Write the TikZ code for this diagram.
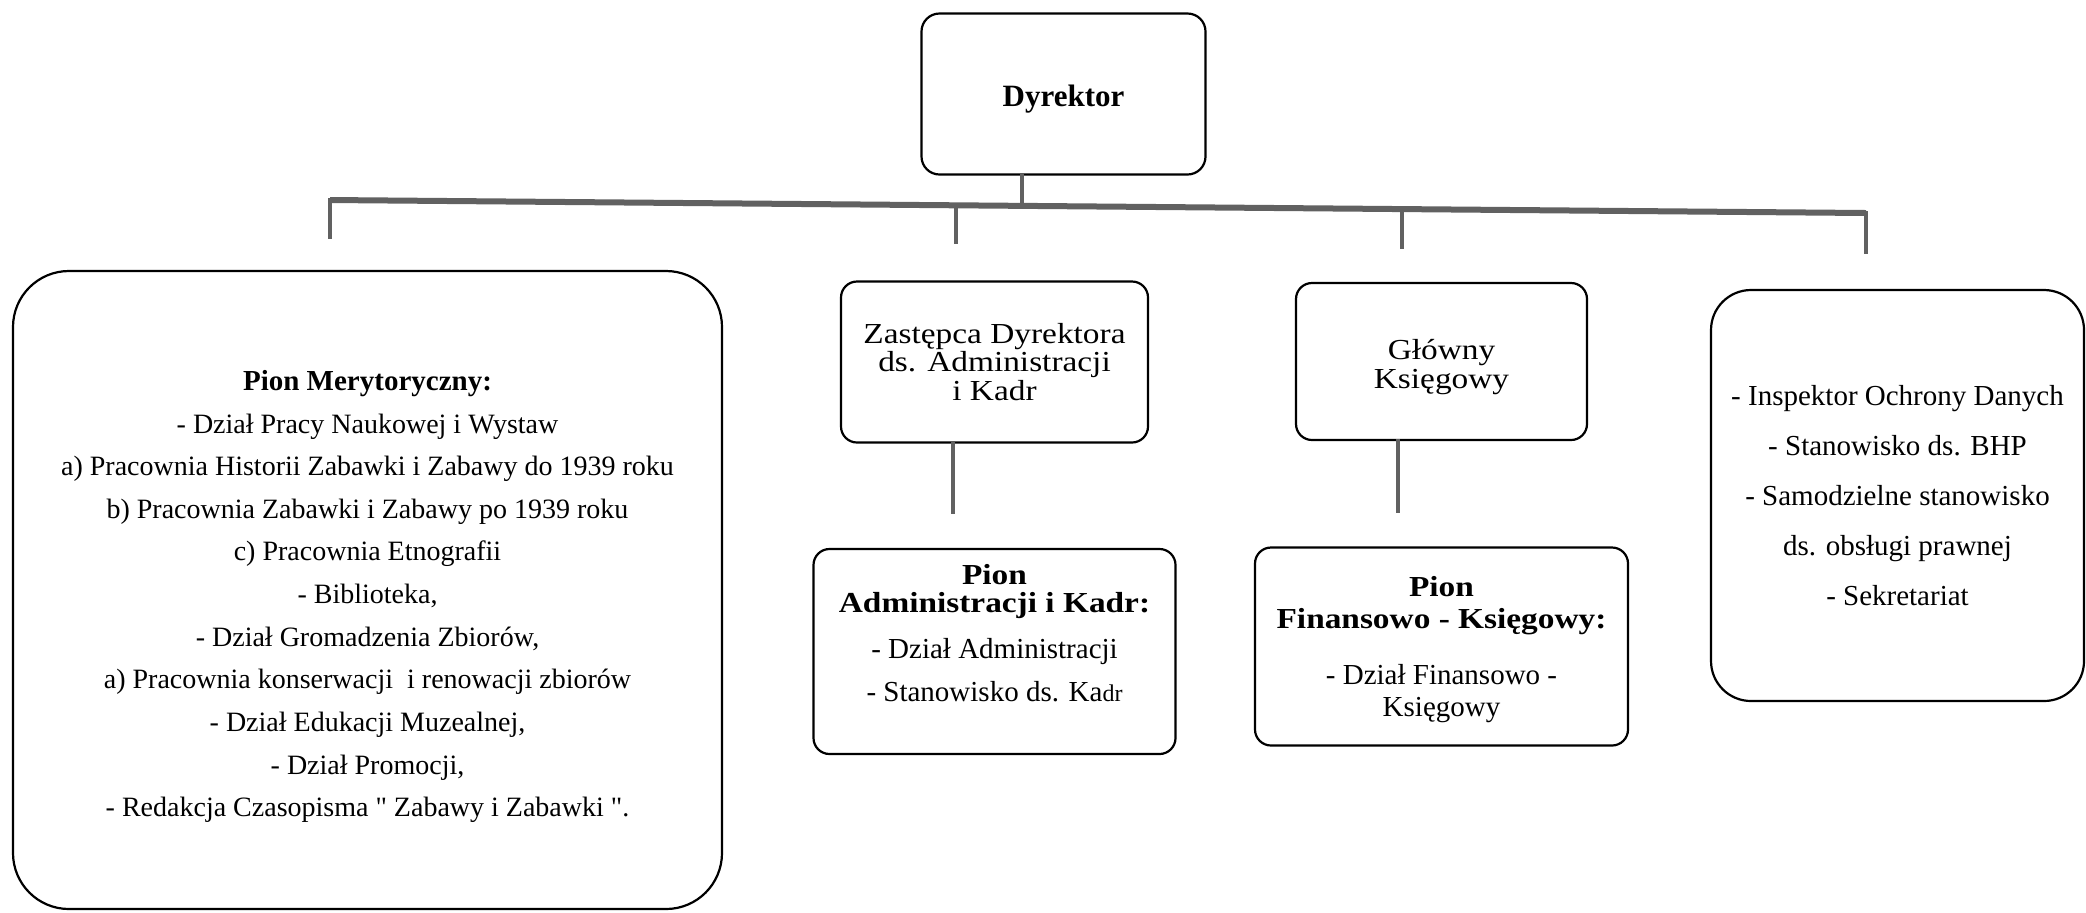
\documentclass[tikz,border=0pt]{standalone}
\usepackage{fontspec}
\setmainfont{Liberation Serif}
\newfontfamily\wideserif{Liberation Serif}[FakeStretch=1.15]
\usetikzlibrary{positioning}
\tikzset{
    unit/.style={draw, line width=1.1pt, rounded corners=8pt,
        align=center, inner sep=0pt},
    bus/.style={draw=black!62, line width=3pt},
    drop/.style={draw=black!62, line width=2pt, line cap=rect}
}
\newcommand{\txt}[2]{\fontsize{#1}{#2}\selectfont}

\begin{document}
\begin{tikzpicture}[x=0.5pt,y=-0.5pt,on grid]
    \useasboundingbox (0,0) rectangle (2086,912);

    % top
    \node[unit, minimum width=142pt, minimum height=80.5pt, rounded corners=9pt,
        font=\txt{15.5}{18}\bfseries] (dyr) at (1063.5,94)
        {\mbox{}\\[-2.1pt]Dyrektor};

    % second row
    \node[unit, minimum width=354.5pt, minimum height=319pt, rounded corners=28pt,
        font=\txt{14}{21.3}] (mer) at (367.5,590)
        {\mbox{}\\[-4.7pt]
         \textbf{\txt{14.5}{21.3}Pion Merytoryczny:}\\
         - Dział Pracy Naukowej i Wystaw\\
         a) Pracownia Historii Zabawki i Zabawy do 1939 roku\\
         b) Pracownia Zabawki i Zabawy po 1939 roku\\
         c) Pracownia Etnografii\\
         - Biblioteka,\\
         - Dział Gromadzenia Zbiorów,\\
         a) Pracownia konserwacji\ \ i renowacji zbiorów\\
         - Dział Edukacji Muzealnej,\\
         - Dział Promocji,\\
         - Redakcja Czasopisma \textquotedbl{} Zabawy i Zabawki \textquotedbl.};
    \node[unit, minimum width=153.5pt, minimum height=80.5pt,
        font=\wideserif\txt{14.5}{14.25}] (zast) at (994.5,362)
        {Zastępca Dyrektora\\ ds. Administracji\\ i Kadr};
    \node[unit, minimum width=145.5pt, minimum height=78.5pt,
        font=\wideserif\txt{14.5}{14.5}] (glow) at (1441.5,361.5)
        {\mbox{}\\[1pt]Główny\\ Księgowy};
    \node[unit, minimum width=186.5pt, minimum height=205.5pt, rounded corners=20pt,
        font=\txt{14.5}{24.9}] (spec) at (1897.5,495.5)
        {- Inspektor Ochrony Danych\\
         - Stanowisko ds. BHP\\
         - Samodzielne stanowisko\\
         ds. obsługi prawnej\\
         - Sekretariat};

    % third row
    \node[unit, minimum width=181pt, minimum height=102.5pt,
        font=\txt{14.5}{14}] (adm) [below=144.75pt of zast]
        {{\wideserif\bfseries Pion}\\ {\wideserif\bfseries Administracji i Kadr:}\\[9pt]
         - Dział Administracji\\[7.5pt]
         - Stanowisko ds. Ka{\txt{12}{14}dr}\\[5pt]\mbox{}};
    \node[unit, minimum width=186.5pt, minimum height=99pt,
        font=\txt{14.5}{16}] (fin) [below=142.5pt of glow]
        {\mbox{}\\[-2.4pt]
         {\wideserif\bfseries Pion}\\ {\wideserif\bfseries Finansowo - Księgowy:}\\[12pt]
         - Dział Finansowo -\\ Księgowy};

    % bus (slightly slanted, as scanned)
    \coordinate (t1) at (330,200);
    \coordinate (tdyr) at (1022,205.9);
    \coordinate (t2) at (956,205.3);
    \coordinate (t3) at (1402,209.1);
    \coordinate (t4) at (1866,213);
    \coordinate (d1) at (330,237);
    \coordinate (d2) at (956,242);
    \coordinate (d3) at (1402,247);
    \coordinate (d4) at (1866,252);

    \draw[bus] (t1) -- (t4);
    \draw[drop] (dyr.south -| tdyr) -- (tdyr);
    \foreach \i in {1,2,3,4}
        \draw[drop] (t\i) -- (d\i);

    % stems under the deputies
    \coordinate (zastfoot) at ([xshift=-20.75pt]zast.south);
    \coordinate (zastend) at ([yshift=-34pt]zastfoot);
    \coordinate (glowfoot) at ([xshift=-21.75pt]glow.south);
    \coordinate (glowend) at ([yshift=-35pt]glowfoot);
    \draw[drop] (zastfoot) -- (zastend);
    \draw[drop] (glowfoot) -- (glowend);
\end{tikzpicture}
\end{document}
